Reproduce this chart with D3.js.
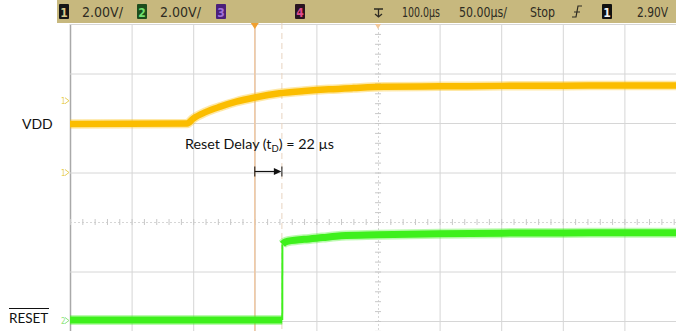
<!DOCTYPE html>
<html>
<head>
<meta charset="utf-8">
<style>
  body { margin: 0; background: #fff; }
  svg { display: block; }
</style>
</head>
<body>
<svg width="676" height="331"></svg>
<script src="https://d3js.org/d3.v7.min.js"></script>
<script>

    // scope settings
    var statusItems = ["2.00V/", "2.00V/", "100.0µs", "50.00µs/", "Stop", "2.90V"];

    // channel 1 (VDD), time in µs, level in V relative to screen centre
    var vddTime = [-150, -55, -50, -40, -28, -15, 0, 20, 40, 60, 80, 105, 150, 200, 250, 300, 350];
    var vddVolt = [3.96, 3.98, 4.18, 4.44, 4.66, 4.86, 5.03, 5.20, 5.29, 5.36, 5.41, 5.46, 5.48, 5.50, 5.51, 5.52, 5.52];

    // channel 2 (RESET)
    var rstTime = [-150, 22.3, 22.4, 25, 40, 55, 70, 100, 150, 200, 250, 300, 350];
    var rstVolt = [-3.96, -3.96, -0.90, -0.80, -0.70, -0.63, -0.56, -0.52, -0.47, -0.45, -0.44, -0.43, -0.43];

    var resetDelay = 22; // µs

    var svg = d3.select("svg"),
        width = +svg.attr("width"),
        height = +svg.attr("height");

    var x = d3.scaleLinear().domain([-150, 350]).range([70, 686]);
    var y = d3.scaleLinear().domain([-8, 8]).range([420, 24]);

    // status bar
    svg.append("rect")
        .attr("x", 57).attr("y", 0)
        .attr("width", width - 57).attr("height", 23)
        .attr("fill", "#c7b87e");

    var grid = svg.append("g");

    grid.selectAll(".vx")
        .data(d3.range(-150, 351, 50))
        .enter().append("line")
        .attr("x1", function(d) { return x(d) + 0.5; })
        .attr("x2", function(d) { return x(d) + 0.5; })
        .attr("y1", y(8)).attr("y2", height)
        .attr("stroke", function(d) { return d === -150 ? "#a9a9a9" : "#d6d6d6"; })
        .attr("stroke-width", function(d) { return d === -150 ? 1.5 : 1; })
        .attr("stroke-dasharray", function(d) { return d === 100 ? "2,2" : null; });

    grid.selectAll(".hy")
        .data(d3.range(-8, 9, 2))
        .enter().append("line")
        .attr("x1", x(-150)).attr("x2", width)
        .attr("y1", function(d) { return y(d) + 0.5; })
        .attr("y2", function(d) { return y(d) + 0.5; })
        .attr("stroke", "#d6d6d6")
        .attr("stroke-dasharray", function(d) { return d === 0 ? "2,2" : null; });

    // minor ticks on the centre lines
    grid.selectAll(".mx")
        .data(d3.range(-150, 351, 10))
        .enter().append("line")
        .attr("x1", function(d) { return x(d) + 0.5; })
        .attr("x2", function(d) { return x(d) + 0.5; })
        .attr("y1", y(0) - 3).attr("y2", y(0) + 3)
        .attr("stroke", "#c8c8c8");

    grid.selectAll(".my")
        .data(d3.range(-8, 8.01, 0.4))
        .enter().append("line")
        .attr("x1", x(100) - 3).attr("x2", x(100) + 3)
        .attr("y1", function(d) { return y(d) + 0.5; })
        .attr("y2", function(d) { return y(d) + 0.5; })
        .attr("stroke", "#c8c8c8");

    // cursors
    svg.append("line")
        .attr("x1", x(0)).attr("x2", x(0))
        .attr("y1", 23).attr("y2", height)
        .attr("stroke", "#f1c9a3").attr("stroke-width", 1.5);

    svg.append("line")
        .attr("x1", x(resetDelay)).attr("x2", x(resetDelay))
        .attr("y1", 23).attr("y2", height)
        .attr("stroke", "#e9d3bf").attr("stroke-dasharray", "6,4");

    svg.append("path")
        .attr("d", "M" + (x(0) - 4) + ",23L" + (x(0) + 4) + ",23L" + x(0) + ",29Z")
        .attr("fill", "#f0a030");

    svg.append("path")
        .attr("d", "M" + (x(100) - 3) + ",24L" + (x(100) + 3) + ",24L" + x(100) + ",29Z")
        .attr("fill", "#f3c89a");

    // traces
    var line = d3.line()
        .x(function(d) { return x(d[0]); })
        .y(function(d) { return y(d[1]); })
        .curve(d3.curveMonotoneX);

    var vdd = d3.zip(vddTime, vddVolt);
    var rst = d3.zip(rstTime, rstVolt);
    var rstLow = rst.filter(function(d) { return d[0] < resetDelay + 0.35; });
    var rstHigh = rst.filter(function(d) { return d[0] > resetDelay + 0.35; });

    function trace(data, color, w) {
        svg.append("path").datum(data)
            .attr("d", line).attr("fill", "none")
            .attr("stroke", color).attr("stroke-opacity", 0.35)
            .attr("stroke-width", w + 3);
        svg.append("path").datum(data)
            .attr("d", line).attr("fill", "none")
            .attr("stroke", color).attr("stroke-width", w);
    }

    trace(vdd, "#fbbd00", 6.5);
    svg.append("line")
        .attr("x1", x(rstLow[rstLow.length - 1][0])).attr("x2", x(rstHigh[0][0]))
        .attr("y1", y(rstLow[rstLow.length - 1][1])).attr("y2", y(rstHigh[0][1]))
        .attr("stroke", "#3ef01c").attr("stroke-width", 2);
    trace(rstLow, "#3ef01c", 7);
    trace(rstHigh, "#3ef01c", 7);

    // channel markers
    var mk = svg.append("g").attr("font-family", "DejaVu Sans Condensed, sans-serif").attr("font-size", 8);
    [[y(4.9), "1", "#e8cf57"], [y(2.0), "1", "#e8cf57"], [y(-3.98), "2", "#8fe57b"]].forEach(function(m) {
        mk.append("text").attr("x", 61).attr("y", m[0] + 3).attr("fill", m[2]).text(m[1]);
        mk.append("path").attr("d", "M65," + (m[0] - 3) + "L69," + m[0] + "L65," + (m[0] + 3))
            .attr("fill", "none").attr("stroke", m[2]);
    });

    // status bar contents
    var bar = svg.append("g")
        .attr("font-family", "DejaVu Sans Condensed, sans-serif")
        .attr("font-size", 14).attr("fill", "#2e2b22");

    function chip(cx, bg, fg, label) {
        bar.append("rect").attr("x", cx - 5).attr("y", 4).attr("width", 10).attr("height", 15)
            .attr("rx", 1).attr("fill", bg);
        bar.append("text").attr("x", cx).attr("y", 16.5).attr("text-anchor", "middle")
            .attr("font-size", 12).attr("font-weight", "bold").attr("fill", fg).text(label);
    }

    function label(x0, w, txt) {
        bar.append("text").attr("x", x0).attr("y", 17)
            .attr("textLength", w).attr("lengthAdjust", "spacingAndGlyphs")
            .text(txt);
    }

    chip(64, "#161616", "#d8c98a", "1");
    label(82, 41, statusItems[0]);
    chip(142, "#1d4d1d", "#6fe06f", "2");
    label(160, 41, statusItems[1]);
    chip(221, "#4b1f7a", "#a070d8", "3");
    chip(300, "#2a1420", "#e04a8c", "4");

    bar.append("path").attr("d", "M374,9L383,9M378.5,9L378.5,17M375,14L378.5,17L382,14")
        .attr("fill", "none").attr("stroke", "#2e2b22").attr("stroke-width", 1.3);

    label(402, 38, statusItems[2]);
    label(459, 48, statusItems[3]);
    label(530, 25, statusItems[4]);
    bar.append("path").attr("d", "M572,17L576,17L578,6L582,6M574,12L580,12")
        .attr("fill", "none").attr("stroke", "#2e2b22").attr("stroke-width", 1.2);
    chip(607, "#111", "#f4f4f4", "1");
    label(637, 31, statusItems[5]);

    // annotations
    var ann = svg.append("g").attr("font-family", "Lato, sans-serif").attr("fill", "#111");

    ann.append("text").attr("x", 22).attr("y", 128.5).attr("font-size", 14).text("VDD");

    ann.append("text").attr("x", 9).attr("y", 323).attr("font-size", 13.5).text("RESET");
    ann.append("line").attr("x1", 9).attr("x2", 49).attr("y1", 308.5).attr("y2", 308.5)
        .attr("stroke", "#111").attr("stroke-width", 1);

    var t = ann.append("text").attr("x", 185).attr("y", 148.5).attr("font-size", 14.3);
    t.append("tspan").text("Reset Delay (t");
    t.append("tspan").attr("font-size", 9.5).attr("dy", 3).text("D");
    t.append("tspan").attr("dy", -3).text(") = " + resetDelay + " µs");

    var ay = 171.5;
    ann.append("line").attr("x1", x(0)).attr("x2", x(0)).attr("y1", ay - 5).attr("y2", ay + 5)
        .attr("stroke", "#111");
    ann.append("line").attr("x1", x(resetDelay)).attr("x2", x(resetDelay)).attr("y1", ay - 5).attr("y2", ay + 5)
        .attr("stroke", "#111");
    ann.append("line").attr("x1", x(0)).attr("x2", x(resetDelay) - 6).attr("y1", ay).attr("y2", ay)
        .attr("stroke", "#111").attr("stroke-width", 1.2);
    ann.append("path")
        .attr("d", "M" + (x(resetDelay) - 8) + "," + (ay - 3.5) + "L" + (x(resetDelay) - 0.5) + "," + ay +
            "L" + (x(resetDelay) - 8) + "," + (ay + 3.5) + "Z");

</script>
</body>
</html>
